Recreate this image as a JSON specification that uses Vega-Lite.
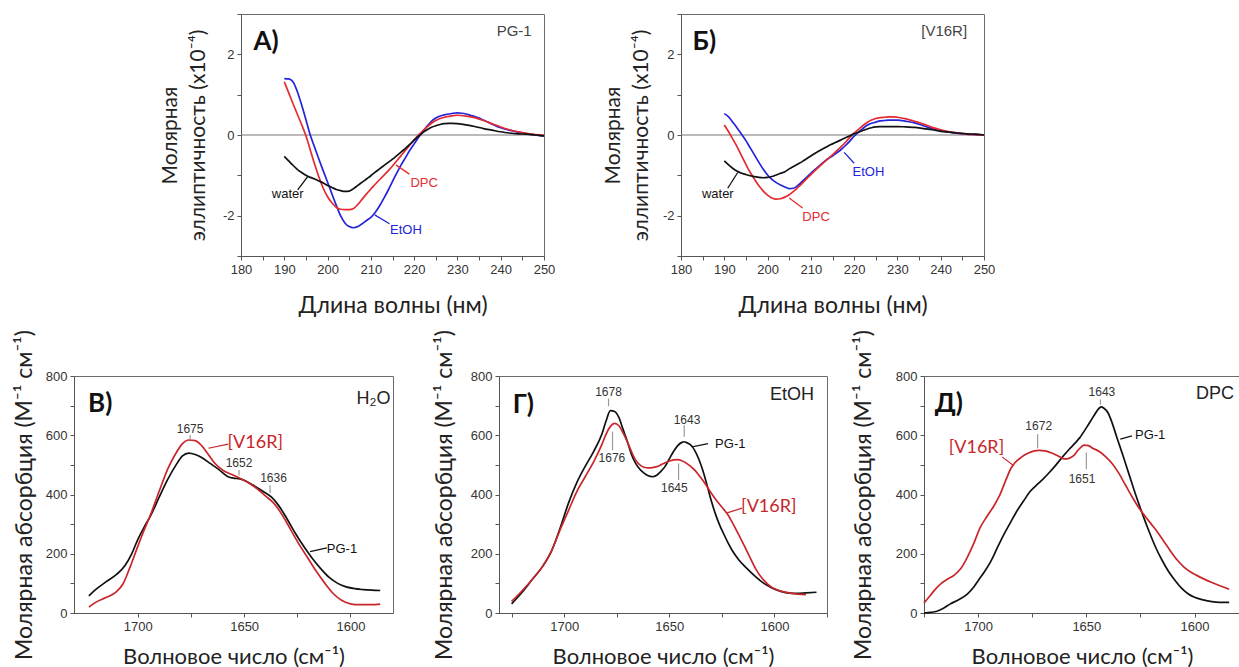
{
"$schema": "https://vega.github.io/schema/vega-lite/v6.json",
"background": "white",
"padding": {"left": 12, "top": 7, "right": 0, "bottom": 0},
"config": {
  "view": {"stroke": null},
  "axis": {"labelFont": "Liberation Sans", "labelFontSize": 13, "labelColor": "#333333", "titleFont": "Lato", "titleFontSize": 22, "titleFontWeight": "normal", "titleColor": "#222222", "tickColor": "#555555", "domainColor": "#555555", "tickSize": 4, "labelPadding": 3, "grid": false, "labelOverlap": false, "labelFlush": false, "titleLineHeight": 28}
},
"datasets": {
"cd": [
{"p":"A","s":"EtOH","x":190,"y":1.40},{"p":"A","s":"EtOH","x":191,"y":1.39},{"p":"A","s":"EtOH","x":192,"y":1.32},{"p":"A","s":"EtOH","x":193,"y":1.08},{"p":"A","s":"EtOH","x":194,"y":0.75},{"p":"A","s":"EtOH","x":195,"y":0.38},{"p":"A","s":"EtOH","x":196,"y":0.0},{"p":"A","s":"EtOH","x":197,"y":-0.30},{"p":"A","s":"EtOH","x":198,"y":-0.60},{"p":"A","s":"EtOH","x":199,"y":-0.89},{"p":"A","s":"EtOH","x":200,"y":-1.17},{"p":"A","s":"EtOH","x":201,"y":-1.46},{"p":"A","s":"EtOH","x":202,"y":-1.74},{"p":"A","s":"EtOH","x":203,"y":-2.00},{"p":"A","s":"EtOH","x":204,"y":-2.18},{"p":"A","s":"EtOH","x":205,"y":-2.27},{"p":"A","s":"EtOH","x":206,"y":-2.30},{"p":"A","s":"EtOH","x":207,"y":-2.27},{"p":"A","s":"EtOH","x":208,"y":-2.20},{"p":"A","s":"EtOH","x":209,"y":-2.12},{"p":"A","s":"EtOH","x":210,"y":-2.04},{"p":"A","s":"EtOH","x":211,"y":-1.92},{"p":"A","s":"EtOH","x":212,"y":-1.76},{"p":"A","s":"EtOH","x":213,"y":-1.57},{"p":"A","s":"EtOH","x":214,"y":-1.37},{"p":"A","s":"EtOH","x":215,"y":-1.15},{"p":"A","s":"EtOH","x":216,"y":-0.94},{"p":"A","s":"EtOH","x":217,"y":-0.74},{"p":"A","s":"EtOH","x":218,"y":-0.56},{"p":"A","s":"EtOH","x":219,"y":-0.38},{"p":"A","s":"EtOH","x":220,"y":-0.22},{"p":"A","s":"EtOH","x":221,"y":-0.06},{"p":"A","s":"EtOH","x":222,"y":0.08},{"p":"A","s":"EtOH","x":223,"y":0.22},{"p":"A","s":"EtOH","x":224,"y":0.34},{"p":"A","s":"EtOH","x":225,"y":0.42},{"p":"A","s":"EtOH","x":226,"y":0.47},{"p":"A","s":"EtOH","x":227,"y":0.50},{"p":"A","s":"EtOH","x":228,"y":0.52},{"p":"A","s":"EtOH","x":229,"y":0.54},{"p":"A","s":"EtOH","x":230,"y":0.55},{"p":"A","s":"EtOH","x":231,"y":0.54},{"p":"A","s":"EtOH","x":232,"y":0.52},{"p":"A","s":"EtOH","x":233,"y":0.49},{"p":"A","s":"EtOH","x":234,"y":0.46},{"p":"A","s":"EtOH","x":235,"y":0.42},{"p":"A","s":"EtOH","x":236,"y":0.37},{"p":"A","s":"EtOH","x":237,"y":0.32},{"p":"A","s":"EtOH","x":238,"y":0.27},{"p":"A","s":"EtOH","x":239,"y":0.22},{"p":"A","s":"EtOH","x":240,"y":0.18},{"p":"A","s":"EtOH","x":242,"y":0.12},{"p":"A","s":"EtOH","x":244,"y":0.07},{"p":"A","s":"EtOH","x":246,"y":0.03},{"p":"A","s":"EtOH","x":248,"y":0.0},{"p":"A","s":"EtOH","x":250,"y":-0.03},
{"p":"A","s":"DPC","x":190,"y":1.32},{"p":"A","s":"DPC","x":191,"y":1.05},{"p":"A","s":"DPC","x":192,"y":0.78},{"p":"A","s":"DPC","x":193,"y":0.52},{"p":"A","s":"DPC","x":194,"y":0.26},{"p":"A","s":"DPC","x":195,"y":-0.02},{"p":"A","s":"DPC","x":196,"y":-0.37},{"p":"A","s":"DPC","x":197,"y":-0.72},{"p":"A","s":"DPC","x":198,"y":-1.04},{"p":"A","s":"DPC","x":199,"y":-1.32},{"p":"A","s":"DPC","x":200,"y":-1.53},{"p":"A","s":"DPC","x":201,"y":-1.68},{"p":"A","s":"DPC","x":202,"y":-1.79},{"p":"A","s":"DPC","x":203,"y":-1.84},{"p":"A","s":"DPC","x":204,"y":-1.85},{"p":"A","s":"DPC","x":205,"y":-1.85},{"p":"A","s":"DPC","x":206,"y":-1.82},{"p":"A","s":"DPC","x":207,"y":-1.72},{"p":"A","s":"DPC","x":208,"y":-1.59},{"p":"A","s":"DPC","x":209,"y":-1.46},{"p":"A","s":"DPC","x":210,"y":-1.34},{"p":"A","s":"DPC","x":211,"y":-1.22},{"p":"A","s":"DPC","x":212,"y":-1.11},{"p":"A","s":"DPC","x":213,"y":-1.00},{"p":"A","s":"DPC","x":214,"y":-0.89},{"p":"A","s":"DPC","x":215,"y":-0.77},{"p":"A","s":"DPC","x":216,"y":-0.64},{"p":"A","s":"DPC","x":217,"y":-0.51},{"p":"A","s":"DPC","x":218,"y":-0.38},{"p":"A","s":"DPC","x":219,"y":-0.25},{"p":"A","s":"DPC","x":220,"y":-0.12},{"p":"A","s":"DPC","x":221,"y":0.0},{"p":"A","s":"DPC","x":222,"y":0.10},{"p":"A","s":"DPC","x":223,"y":0.20},{"p":"A","s":"DPC","x":224,"y":0.29},{"p":"A","s":"DPC","x":225,"y":0.36},{"p":"A","s":"DPC","x":226,"y":0.41},{"p":"A","s":"DPC","x":227,"y":0.44},{"p":"A","s":"DPC","x":228,"y":0.46},{"p":"A","s":"DPC","x":229,"y":0.48},{"p":"A","s":"DPC","x":230,"y":0.49},{"p":"A","s":"DPC","x":232,"y":0.47},{"p":"A","s":"DPC","x":234,"y":0.43},{"p":"A","s":"DPC","x":236,"y":0.36},{"p":"A","s":"DPC","x":238,"y":0.28},{"p":"A","s":"DPC","x":240,"y":0.20},{"p":"A","s":"DPC","x":242,"y":0.13},{"p":"A","s":"DPC","x":244,"y":0.08},{"p":"A","s":"DPC","x":246,"y":0.04},{"p":"A","s":"DPC","x":248,"y":0.01},{"p":"A","s":"DPC","x":250,"y":-0.01},
{"p":"A","s":"water","x":190,"y":-0.53},{"p":"A","s":"water","x":191,"y":-0.64},{"p":"A","s":"water","x":192,"y":-0.75},{"p":"A","s":"water","x":193,"y":-0.85},{"p":"A","s":"water","x":194,"y":-0.93},{"p":"A","s":"water","x":195,"y":-1.00},{"p":"A","s":"water","x":196,"y":-1.05},{"p":"A","s":"water","x":197,"y":-1.09},{"p":"A","s":"water","x":198,"y":-1.14},{"p":"A","s":"water","x":199,"y":-1.19},{"p":"A","s":"water","x":200,"y":-1.25},{"p":"A","s":"water","x":201,"y":-1.30},{"p":"A","s":"water","x":202,"y":-1.35},{"p":"A","s":"water","x":203,"y":-1.38},{"p":"A","s":"water","x":204,"y":-1.40},{"p":"A","s":"water","x":205,"y":-1.39},{"p":"A","s":"water","x":206,"y":-1.33},{"p":"A","s":"water","x":207,"y":-1.25},{"p":"A","s":"water","x":208,"y":-1.17},{"p":"A","s":"water","x":209,"y":-1.09},{"p":"A","s":"water","x":210,"y":-1.01},{"p":"A","s":"water","x":211,"y":-0.92},{"p":"A","s":"water","x":212,"y":-0.84},{"p":"A","s":"water","x":213,"y":-0.76},{"p":"A","s":"water","x":214,"y":-0.68},{"p":"A","s":"water","x":215,"y":-0.60},{"p":"A","s":"water","x":216,"y":-0.51},{"p":"A","s":"water","x":217,"y":-0.42},{"p":"A","s":"water","x":218,"y":-0.33},{"p":"A","s":"water","x":219,"y":-0.23},{"p":"A","s":"water","x":220,"y":-0.13},{"p":"A","s":"water","x":221,"y":-0.03},{"p":"A","s":"water","x":222,"y":0.06},{"p":"A","s":"water","x":223,"y":0.13},{"p":"A","s":"water","x":224,"y":0.19},{"p":"A","s":"water","x":225,"y":0.23},{"p":"A","s":"water","x":226,"y":0.26},{"p":"A","s":"water","x":227,"y":0.28},{"p":"A","s":"water","x":228,"y":0.29},{"p":"A","s":"water","x":229,"y":0.29},{"p":"A","s":"water","x":230,"y":0.28},{"p":"A","s":"water","x":232,"y":0.25},{"p":"A","s":"water","x":234,"y":0.21},{"p":"A","s":"water","x":236,"y":0.16},{"p":"A","s":"water","x":238,"y":0.12},{"p":"A","s":"water","x":240,"y":0.08},{"p":"A","s":"water","x":242,"y":0.05},{"p":"A","s":"water","x":244,"y":0.03},{"p":"A","s":"water","x":246,"y":0.02},{"p":"A","s":"water","x":248,"y":0.0},{"p":"A","s":"water","x":250,"y":-0.02},
{"p":"B","s":"EtOH","x":190,"y":0.53},{"p":"B","s":"EtOH","x":191,"y":0.45},{"p":"B","s":"EtOH","x":192,"y":0.31},{"p":"B","s":"EtOH","x":193,"y":0.17},{"p":"B","s":"EtOH","x":194,"y":0.02},{"p":"B","s":"EtOH","x":195,"y":-0.14},{"p":"B","s":"EtOH","x":196,"y":-0.32},{"p":"B","s":"EtOH","x":197,"y":-0.50},{"p":"B","s":"EtOH","x":198,"y":-0.68},{"p":"B","s":"EtOH","x":199,"y":-0.85},{"p":"B","s":"EtOH","x":200,"y":-0.99},{"p":"B","s":"EtOH","x":201,"y":-1.10},{"p":"B","s":"EtOH","x":202,"y":-1.18},{"p":"B","s":"EtOH","x":203,"y":-1.24},{"p":"B","s":"EtOH","x":204,"y":-1.29},{"p":"B","s":"EtOH","x":205,"y":-1.33},{"p":"B","s":"EtOH","x":206,"y":-1.32},{"p":"B","s":"EtOH","x":207,"y":-1.25},{"p":"B","s":"EtOH","x":208,"y":-1.15},{"p":"B","s":"EtOH","x":209,"y":-1.05},{"p":"B","s":"EtOH","x":210,"y":-0.95},{"p":"B","s":"EtOH","x":211,"y":-0.85},{"p":"B","s":"EtOH","x":212,"y":-0.76},{"p":"B","s":"EtOH","x":213,"y":-0.67},{"p":"B","s":"EtOH","x":214,"y":-0.59},{"p":"B","s":"EtOH","x":215,"y":-0.52},{"p":"B","s":"EtOH","x":216,"y":-0.44},{"p":"B","s":"EtOH","x":217,"y":-0.36},{"p":"B","s":"EtOH","x":218,"y":-0.26},{"p":"B","s":"EtOH","x":219,"y":-0.15},{"p":"B","s":"EtOH","x":220,"y":-0.03},{"p":"B","s":"EtOH","x":221,"y":0.07},{"p":"B","s":"EtOH","x":222,"y":0.16},{"p":"B","s":"EtOH","x":223,"y":0.24},{"p":"B","s":"EtOH","x":224,"y":0.29},{"p":"B","s":"EtOH","x":225,"y":0.32},{"p":"B","s":"EtOH","x":226,"y":0.35},{"p":"B","s":"EtOH","x":227,"y":0.36},{"p":"B","s":"EtOH","x":228,"y":0.37},{"p":"B","s":"EtOH","x":229,"y":0.37},{"p":"B","s":"EtOH","x":230,"y":0.37},{"p":"B","s":"EtOH","x":232,"y":0.34},{"p":"B","s":"EtOH","x":234,"y":0.30},{"p":"B","s":"EtOH","x":236,"y":0.23},{"p":"B","s":"EtOH","x":238,"y":0.16},{"p":"B","s":"EtOH","x":240,"y":0.11},{"p":"B","s":"EtOH","x":242,"y":0.07},{"p":"B","s":"EtOH","x":244,"y":0.04},{"p":"B","s":"EtOH","x":246,"y":0.02},{"p":"B","s":"EtOH","x":248,"y":0.01},{"p":"B","s":"EtOH","x":250,"y":0.0},
{"p":"B","s":"DPC","x":190,"y":0.25},{"p":"B","s":"DPC","x":191,"y":0.08},{"p":"B","s":"DPC","x":192,"y":-0.11},{"p":"B","s":"DPC","x":193,"y":-0.30},{"p":"B","s":"DPC","x":194,"y":-0.52},{"p":"B","s":"DPC","x":195,"y":-0.73},{"p":"B","s":"DPC","x":196,"y":-0.93},{"p":"B","s":"DPC","x":197,"y":-1.10},{"p":"B","s":"DPC","x":198,"y":-1.26},{"p":"B","s":"DPC","x":199,"y":-1.39},{"p":"B","s":"DPC","x":200,"y":-1.49},{"p":"B","s":"DPC","x":201,"y":-1.56},{"p":"B","s":"DPC","x":202,"y":-1.59},{"p":"B","s":"DPC","x":203,"y":-1.58},{"p":"B","s":"DPC","x":204,"y":-1.54},{"p":"B","s":"DPC","x":205,"y":-1.48},{"p":"B","s":"DPC","x":206,"y":-1.40},{"p":"B","s":"DPC","x":207,"y":-1.30},{"p":"B","s":"DPC","x":208,"y":-1.20},{"p":"B","s":"DPC","x":209,"y":-1.09},{"p":"B","s":"DPC","x":210,"y":-0.98},{"p":"B","s":"DPC","x":211,"y":-0.88},{"p":"B","s":"DPC","x":212,"y":-0.78},{"p":"B","s":"DPC","x":213,"y":-0.68},{"p":"B","s":"DPC","x":214,"y":-0.58},{"p":"B","s":"DPC","x":215,"y":-0.49},{"p":"B","s":"DPC","x":216,"y":-0.39},{"p":"B","s":"DPC","x":217,"y":-0.29},{"p":"B","s":"DPC","x":218,"y":-0.18},{"p":"B","s":"DPC","x":219,"y":-0.06},{"p":"B","s":"DPC","x":220,"y":0.05},{"p":"B","s":"DPC","x":221,"y":0.14},{"p":"B","s":"DPC","x":222,"y":0.23},{"p":"B","s":"DPC","x":223,"y":0.31},{"p":"B","s":"DPC","x":224,"y":0.37},{"p":"B","s":"DPC","x":225,"y":0.41},{"p":"B","s":"DPC","x":226,"y":0.43},{"p":"B","s":"DPC","x":227,"y":0.44},{"p":"B","s":"DPC","x":228,"y":0.45},{"p":"B","s":"DPC","x":229,"y":0.45},{"p":"B","s":"DPC","x":230,"y":0.44},{"p":"B","s":"DPC","x":232,"y":0.40},{"p":"B","s":"DPC","x":234,"y":0.34},{"p":"B","s":"DPC","x":236,"y":0.27},{"p":"B","s":"DPC","x":238,"y":0.19},{"p":"B","s":"DPC","x":240,"y":0.13},{"p":"B","s":"DPC","x":242,"y":0.08},{"p":"B","s":"DPC","x":244,"y":0.05},{"p":"B","s":"DPC","x":246,"y":0.02},{"p":"B","s":"DPC","x":248,"y":0.01},{"p":"B","s":"DPC","x":250,"y":0.0},
{"p":"B","s":"water","x":190,"y":-0.64},{"p":"B","s":"water","x":191,"y":-0.74},{"p":"B","s":"water","x":192,"y":-0.83},{"p":"B","s":"water","x":193,"y":-0.90},{"p":"B","s":"water","x":194,"y":-0.95},{"p":"B","s":"water","x":195,"y":-0.98},{"p":"B","s":"water","x":196,"y":-1.01},{"p":"B","s":"water","x":197,"y":-1.03},{"p":"B","s":"water","x":198,"y":-1.05},{"p":"B","s":"water","x":199,"y":-1.06},{"p":"B","s":"water","x":200,"y":-1.05},{"p":"B","s":"water","x":201,"y":-1.03},{"p":"B","s":"water","x":202,"y":-0.99},{"p":"B","s":"water","x":203,"y":-0.95},{"p":"B","s":"water","x":204,"y":-0.91},{"p":"B","s":"water","x":205,"y":-0.84},{"p":"B","s":"water","x":206,"y":-0.78},{"p":"B","s":"water","x":207,"y":-0.72},{"p":"B","s":"water","x":208,"y":-0.66},{"p":"B","s":"water","x":209,"y":-0.59},{"p":"B","s":"water","x":210,"y":-0.52},{"p":"B","s":"water","x":211,"y":-0.45},{"p":"B","s":"water","x":212,"y":-0.39},{"p":"B","s":"water","x":213,"y":-0.33},{"p":"B","s":"water","x":214,"y":-0.27},{"p":"B","s":"water","x":215,"y":-0.22},{"p":"B","s":"water","x":216,"y":-0.17},{"p":"B","s":"water","x":217,"y":-0.12},{"p":"B","s":"water","x":218,"y":-0.07},{"p":"B","s":"water","x":219,"y":-0.02},{"p":"B","s":"water","x":220,"y":0.03},{"p":"B","s":"water","x":221,"y":0.07},{"p":"B","s":"water","x":222,"y":0.11},{"p":"B","s":"water","x":223,"y":0.15},{"p":"B","s":"water","x":224,"y":0.18},{"p":"B","s":"water","x":225,"y":0.20},{"p":"B","s":"water","x":226,"y":0.21},{"p":"B","s":"water","x":227,"y":0.21},{"p":"B","s":"water","x":228,"y":0.21},{"p":"B","s":"water","x":229,"y":0.21},{"p":"B","s":"water","x":230,"y":0.21},{"p":"B","s":"water","x":232,"y":0.20},{"p":"B","s":"water","x":234,"y":0.19},{"p":"B","s":"water","x":236,"y":0.16},{"p":"B","s":"water","x":238,"y":0.13},{"p":"B","s":"water","x":240,"y":0.09},{"p":"B","s":"water","x":242,"y":0.07},{"p":"B","s":"water","x":244,"y":0.05},{"p":"B","s":"water","x":246,"y":0.03},{"p":"B","s":"water","x":248,"y":0.02},{"p":"B","s":"water","x":250,"y":0.0}
],
"ir": [
{"p":"H2O","s":"PG-1","x":1723,"y":58},{"p":"H2O","s":"PG-1","x":1720,"y":78},{"p":"H2O","s":"PG-1","x":1715,"y":105},{"p":"H2O","s":"PG-1","x":1710,"y":130},{"p":"H2O","s":"PG-1","x":1706,"y":160},{"p":"H2O","s":"PG-1","x":1703,"y":198},{"p":"H2O","s":"PG-1","x":1700,"y":248},{"p":"H2O","s":"PG-1","x":1697,"y":290},{"p":"H2O","s":"PG-1","x":1694,"y":328},{"p":"H2O","s":"PG-1","x":1690,"y":390},{"p":"H2O","s":"PG-1","x":1686,"y":450},{"p":"H2O","s":"PG-1","x":1682,"y":500},{"p":"H2O","s":"PG-1","x":1679,"y":530},{"p":"H2O","s":"PG-1","x":1676,"y":540},{"p":"H2O","s":"PG-1","x":1673,"y":535},{"p":"H2O","s":"PG-1","x":1670,"y":525},{"p":"H2O","s":"PG-1","x":1666,"y":505},{"p":"H2O","s":"PG-1","x":1662,"y":485},{"p":"H2O","s":"PG-1","x":1658,"y":462},{"p":"H2O","s":"PG-1","x":1655,"y":455},{"p":"H2O","s":"PG-1","x":1652,"y":453},{"p":"H2O","s":"PG-1","x":1649,"y":445},{"p":"H2O","s":"PG-1","x":1645,"y":428},{"p":"H2O","s":"PG-1","x":1641,"y":410},{"p":"H2O","s":"PG-1","x":1637,"y":390},{"p":"H2O","s":"PG-1","x":1634,"y":365},{"p":"H2O","s":"PG-1","x":1630,"y":320},{"p":"H2O","s":"PG-1","x":1626,"y":270},{"p":"H2O","s":"PG-1","x":1622,"y":225},{"p":"H2O","s":"PG-1","x":1618,"y":185},{"p":"H2O","s":"PG-1","x":1614,"y":150},{"p":"H2O","s":"PG-1","x":1610,"y":120},{"p":"H2O","s":"PG-1","x":1606,"y":100},{"p":"H2O","s":"PG-1","x":1602,"y":88},{"p":"H2O","s":"PG-1","x":1598,"y":82},{"p":"H2O","s":"PG-1","x":1594,"y":79},{"p":"H2O","s":"PG-1","x":1590,"y":77},{"p":"H2O","s":"PG-1","x":1586,"y":76},
{"p":"H2O","s":"V16R","x":1723,"y":20},{"p":"H2O","s":"V16R","x":1720,"y":35},{"p":"H2O","s":"V16R","x":1715,"y":52},{"p":"H2O","s":"V16R","x":1710,"y":72},{"p":"H2O","s":"V16R","x":1707,"y":98},{"p":"H2O","s":"V16R","x":1704,"y":148},{"p":"H2O","s":"V16R","x":1700,"y":225},{"p":"H2O","s":"V16R","x":1697,"y":280},{"p":"H2O","s":"V16R","x":1694,"y":332},{"p":"H2O","s":"V16R","x":1690,"y":410},{"p":"H2O","s":"V16R","x":1686,"y":485},{"p":"H2O","s":"V16R","x":1682,"y":540},{"p":"H2O","s":"V16R","x":1679,"y":572},{"p":"H2O","s":"V16R","x":1676,"y":584},{"p":"H2O","s":"V16R","x":1673,"y":582},{"p":"H2O","s":"V16R","x":1670,"y":565},{"p":"H2O","s":"V16R","x":1667,"y":537},{"p":"H2O","s":"V16R","x":1664,"y":507},{"p":"H2O","s":"V16R","x":1660,"y":482},{"p":"H2O","s":"V16R","x":1656,"y":468},{"p":"H2O","s":"V16R","x":1652,"y":455},{"p":"H2O","s":"V16R","x":1648,"y":440},{"p":"H2O","s":"V16R","x":1644,"y":420},{"p":"H2O","s":"V16R","x":1640,"y":395},{"p":"H2O","s":"V16R","x":1636,"y":370},{"p":"H2O","s":"V16R","x":1632,"y":330},{"p":"H2O","s":"V16R","x":1628,"y":280},{"p":"H2O","s":"V16R","x":1624,"y":230},{"p":"H2O","s":"V16R","x":1620,"y":185},{"p":"H2O","s":"V16R","x":1616,"y":140},{"p":"H2O","s":"V16R","x":1612,"y":100},{"p":"H2O","s":"V16R","x":1608,"y":65},{"p":"H2O","s":"V16R","x":1604,"y":42},{"p":"H2O","s":"V16R","x":1600,"y":31},{"p":"H2O","s":"V16R","x":1596,"y":28},{"p":"H2O","s":"V16R","x":1590,"y":28},{"p":"H2O","s":"V16R","x":1586,"y":30},
{"p":"EtOH","s":"PG-1","x":1725,"y":31},{"p":"EtOH","s":"PG-1","x":1720,"y":70},{"p":"EtOH","s":"PG-1","x":1715,"y":115},{"p":"EtOH","s":"PG-1","x":1710,"y":160},{"p":"EtOH","s":"PG-1","x":1706,"y":210},{"p":"EtOH","s":"PG-1","x":1702,"y":285},{"p":"EtOH","s":"PG-1","x":1698,"y":370},{"p":"EtOH","s":"PG-1","x":1694,"y":440},{"p":"EtOH","s":"PG-1","x":1690,"y":495},{"p":"EtOH","s":"PG-1","x":1686,"y":545},{"p":"EtOH","s":"PG-1","x":1682,"y":605},{"p":"EtOH","s":"PG-1","x":1680,"y":650},{"p":"EtOH","s":"PG-1","x":1678,"y":683},{"p":"EtOH","s":"PG-1","x":1676,"y":680},{"p":"EtOH","s":"PG-1","x":1674,"y":660},{"p":"EtOH","s":"PG-1","x":1672,"y":620},{"p":"EtOH","s":"PG-1","x":1670,"y":580},{"p":"EtOH","s":"PG-1","x":1668,"y":535},{"p":"EtOH","s":"PG-1","x":1666,"y":505},{"p":"EtOH","s":"PG-1","x":1664,"y":485},{"p":"EtOH","s":"PG-1","x":1662,"y":472},{"p":"EtOH","s":"PG-1","x":1660,"y":463},{"p":"EtOH","s":"PG-1","x":1658,"y":460},{"p":"EtOH","s":"PG-1","x":1656,"y":465},{"p":"EtOH","s":"PG-1","x":1654,"y":478},{"p":"EtOH","s":"PG-1","x":1652,"y":495},{"p":"EtOH","s":"PG-1","x":1650,"y":520},{"p":"EtOH","s":"PG-1","x":1648,"y":545},{"p":"EtOH","s":"PG-1","x":1646,"y":565},{"p":"EtOH","s":"PG-1","x":1644,"y":576},{"p":"EtOH","s":"PG-1","x":1643,"y":578},{"p":"EtOH","s":"PG-1","x":1642,"y":576},{"p":"EtOH","s":"PG-1","x":1640,"y":568},{"p":"EtOH","s":"PG-1","x":1638,"y":550},{"p":"EtOH","s":"PG-1","x":1636,"y":520},{"p":"EtOH","s":"PG-1","x":1634,"y":480},{"p":"EtOH","s":"PG-1","x":1632,"y":430},{"p":"EtOH","s":"PG-1","x":1630,"y":378},{"p":"EtOH","s":"PG-1","x":1628,"y":333},{"p":"EtOH","s":"PG-1","x":1626,"y":296},{"p":"EtOH","s":"PG-1","x":1624,"y":265},{"p":"EtOH","s":"PG-1","x":1622,"y":236},{"p":"EtOH","s":"PG-1","x":1620,"y":210},{"p":"EtOH","s":"PG-1","x":1617,"y":180},{"p":"EtOH","s":"PG-1","x":1613,"y":150},{"p":"EtOH","s":"PG-1","x":1609,"y":123},{"p":"EtOH","s":"PG-1","x":1605,"y":100},{"p":"EtOH","s":"PG-1","x":1601,"y":84},{"p":"EtOH","s":"PG-1","x":1597,"y":73},{"p":"EtOH","s":"PG-1","x":1593,"y":67},{"p":"EtOH","s":"PG-1","x":1589,"y":66},{"p":"EtOH","s":"PG-1","x":1585,"y":68},{"p":"EtOH","s":"PG-1","x":1580,"y":70},
{"p":"EtOH","s":"V16R","x":1725,"y":39},{"p":"EtOH","s":"V16R","x":1720,"y":75},{"p":"EtOH","s":"V16R","x":1715,"y":115},{"p":"EtOH","s":"V16R","x":1710,"y":160},{"p":"EtOH","s":"V16R","x":1706,"y":210},{"p":"EtOH","s":"V16R","x":1702,"y":280},{"p":"EtOH","s":"V16R","x":1698,"y":345},{"p":"EtOH","s":"V16R","x":1694,"y":410},{"p":"EtOH","s":"V16R","x":1690,"y":460},{"p":"EtOH","s":"V16R","x":1686,"y":510},{"p":"EtOH","s":"V16R","x":1682,"y":570},{"p":"EtOH","s":"V16R","x":1680,"y":605},{"p":"EtOH","s":"V16R","x":1678,"y":630},{"p":"EtOH","s":"V16R","x":1676,"y":640},{"p":"EtOH","s":"V16R","x":1674,"y":632},{"p":"EtOH","s":"V16R","x":1672,"y":608},{"p":"EtOH","s":"V16R","x":1670,"y":578},{"p":"EtOH","s":"V16R","x":1668,"y":545},{"p":"EtOH","s":"V16R","x":1666,"y":516},{"p":"EtOH","s":"V16R","x":1664,"y":500},{"p":"EtOH","s":"V16R","x":1662,"y":492},{"p":"EtOH","s":"V16R","x":1660,"y":490},{"p":"EtOH","s":"V16R","x":1658,"y":491},{"p":"EtOH","s":"V16R","x":1656,"y":494},{"p":"EtOH","s":"V16R","x":1654,"y":500},{"p":"EtOH","s":"V16R","x":1652,"y":507},{"p":"EtOH","s":"V16R","x":1650,"y":513},{"p":"EtOH","s":"V16R","x":1648,"y":517},{"p":"EtOH","s":"V16R","x":1646,"y":518},{"p":"EtOH","s":"V16R","x":1644,"y":514},{"p":"EtOH","s":"V16R","x":1642,"y":506},{"p":"EtOH","s":"V16R","x":1640,"y":496},{"p":"EtOH","s":"V16R","x":1638,"y":483},{"p":"EtOH","s":"V16R","x":1636,"y":466},{"p":"EtOH","s":"V16R","x":1634,"y":447},{"p":"EtOH","s":"V16R","x":1632,"y":426},{"p":"EtOH","s":"V16R","x":1630,"y":404},{"p":"EtOH","s":"V16R","x":1628,"y":384},{"p":"EtOH","s":"V16R","x":1626,"y":366},{"p":"EtOH","s":"V16R","x":1624,"y":349},{"p":"EtOH","s":"V16R","x":1622,"y":330},{"p":"EtOH","s":"V16R","x":1620,"y":305},{"p":"EtOH","s":"V16R","x":1618,"y":278},{"p":"EtOH","s":"V16R","x":1616,"y":250},{"p":"EtOH","s":"V16R","x":1614,"y":222},{"p":"EtOH","s":"V16R","x":1612,"y":193},{"p":"EtOH","s":"V16R","x":1609,"y":150},{"p":"EtOH","s":"V16R","x":1605,"y":110},{"p":"EtOH","s":"V16R","x":1601,"y":85},{"p":"EtOH","s":"V16R","x":1597,"y":74},{"p":"EtOH","s":"V16R","x":1593,"y":68},{"p":"EtOH","s":"V16R","x":1589,"y":64},{"p":"EtOH","s":"V16R","x":1585,"y":62},
{"p":"DPC","s":"PG-1","x":1725,"y":0},{"p":"DPC","s":"PG-1","x":1722,"y":2},{"p":"DPC","s":"PG-1","x":1719,"y":6},{"p":"DPC","s":"PG-1","x":1716,"y":16},{"p":"DPC","s":"PG-1","x":1713,"y":30},{"p":"DPC","s":"PG-1","x":1709,"y":45},{"p":"DPC","s":"PG-1","x":1705,"y":64},{"p":"DPC","s":"PG-1","x":1702,"y":88},{"p":"DPC","s":"PG-1","x":1700,"y":109},{"p":"DPC","s":"PG-1","x":1697,"y":140},{"p":"DPC","s":"PG-1","x":1694,"y":176},{"p":"DPC","s":"PG-1","x":1691,"y":222},{"p":"DPC","s":"PG-1","x":1688,"y":266},{"p":"DPC","s":"PG-1","x":1685,"y":306},{"p":"DPC","s":"PG-1","x":1682,"y":345},{"p":"DPC","s":"PG-1","x":1679,"y":378},{"p":"DPC","s":"PG-1","x":1676,"y":410},{"p":"DPC","s":"PG-1","x":1673,"y":432},{"p":"DPC","s":"PG-1","x":1670,"y":452},{"p":"DPC","s":"PG-1","x":1667,"y":475},{"p":"DPC","s":"PG-1","x":1664,"y":500},{"p":"DPC","s":"PG-1","x":1661,"y":527},{"p":"DPC","s":"PG-1","x":1658,"y":552},{"p":"DPC","s":"PG-1","x":1655,"y":575},{"p":"DPC","s":"PG-1","x":1653,"y":592},{"p":"DPC","s":"PG-1","x":1650,"y":625},{"p":"DPC","s":"PG-1","x":1648,"y":648},{"p":"DPC","s":"PG-1","x":1646,"y":672},{"p":"DPC","s":"PG-1","x":1644,"y":692},{"p":"DPC","s":"PG-1","x":1643,"y":696},{"p":"DPC","s":"PG-1","x":1642,"y":692},{"p":"DPC","s":"PG-1","x":1640,"y":676},{"p":"DPC","s":"PG-1","x":1638,"y":640},{"p":"DPC","s":"PG-1","x":1636,"y":595},{"p":"DPC","s":"PG-1","x":1633,"y":530},{"p":"DPC","s":"PG-1","x":1630,"y":462},{"p":"DPC","s":"PG-1","x":1627,"y":395},{"p":"DPC","s":"PG-1","x":1624,"y":333},{"p":"DPC","s":"PG-1","x":1621,"y":275},{"p":"DPC","s":"PG-1","x":1618,"y":222},{"p":"DPC","s":"PG-1","x":1615,"y":178},{"p":"DPC","s":"PG-1","x":1612,"y":140},{"p":"DPC","s":"PG-1","x":1609,"y":110},{"p":"DPC","s":"PG-1","x":1606,"y":84},{"p":"DPC","s":"PG-1","x":1603,"y":65},{"p":"DPC","s":"PG-1","x":1600,"y":53},{"p":"DPC","s":"PG-1","x":1597,"y":46},{"p":"DPC","s":"PG-1","x":1594,"y":41},{"p":"DPC","s":"PG-1","x":1590,"y":37},{"p":"DPC","s":"PG-1","x":1587,"y":36},{"p":"DPC","s":"PG-1","x":1584,"y":36},
{"p":"DPC","s":"V16R","x":1725,"y":34},{"p":"DPC","s":"V16R","x":1722,"y":60},{"p":"DPC","s":"V16R","x":1720,"y":78},{"p":"DPC","s":"V16R","x":1717,"y":100},{"p":"DPC","s":"V16R","x":1714,"y":115},{"p":"DPC","s":"V16R","x":1711,"y":128},{"p":"DPC","s":"V16R","x":1708,"y":150},{"p":"DPC","s":"V16R","x":1705,"y":188},{"p":"DPC","s":"V16R","x":1702,"y":235},{"p":"DPC","s":"V16R","x":1699,"y":289},{"p":"DPC","s":"V16R","x":1696,"y":325},{"p":"DPC","s":"V16R","x":1693,"y":358},{"p":"DPC","s":"V16R","x":1690,"y":398},{"p":"DPC","s":"V16R","x":1687,"y":452},{"p":"DPC","s":"V16R","x":1685,"y":486},{"p":"DPC","s":"V16R","x":1683,"y":507},{"p":"DPC","s":"V16R","x":1680,"y":526},{"p":"DPC","s":"V16R","x":1677,"y":539},{"p":"DPC","s":"V16R","x":1674,"y":547},{"p":"DPC","s":"V16R","x":1672,"y":549},{"p":"DPC","s":"V16R","x":1669,"y":547},{"p":"DPC","s":"V16R","x":1666,"y":540},{"p":"DPC","s":"V16R","x":1663,"y":530},{"p":"DPC","s":"V16R","x":1660,"y":520},{"p":"DPC","s":"V16R","x":1658,"y":522},{"p":"DPC","s":"V16R","x":1656,"y":530},{"p":"DPC","s":"V16R","x":1654,"y":548},{"p":"DPC","s":"V16R","x":1652,"y":563},{"p":"DPC","s":"V16R","x":1651,"y":567},{"p":"DPC","s":"V16R","x":1649,"y":565},{"p":"DPC","s":"V16R","x":1647,"y":556},{"p":"DPC","s":"V16R","x":1644,"y":545},{"p":"DPC","s":"V16R","x":1641,"y":527},{"p":"DPC","s":"V16R","x":1638,"y":504},{"p":"DPC","s":"V16R","x":1635,"y":472},{"p":"DPC","s":"V16R","x":1632,"y":433},{"p":"DPC","s":"V16R","x":1629,"y":394},{"p":"DPC","s":"V16R","x":1626,"y":358},{"p":"DPC","s":"V16R","x":1623,"y":328},{"p":"DPC","s":"V16R","x":1620,"y":300},{"p":"DPC","s":"V16R","x":1617,"y":272},{"p":"DPC","s":"V16R","x":1614,"y":240},{"p":"DPC","s":"V16R","x":1611,"y":208},{"p":"DPC","s":"V16R","x":1608,"y":179},{"p":"DPC","s":"V16R","x":1605,"y":156},{"p":"DPC","s":"V16R","x":1602,"y":139},{"p":"DPC","s":"V16R","x":1599,"y":127},{"p":"DPC","s":"V16R","x":1596,"y":116},{"p":"DPC","s":"V16R","x":1592,"y":103},{"p":"DPC","s":"V16R","x":1588,"y":91},{"p":"DPC","s":"V16R","x":1584,"y":80}
],
"notes": [
{"p":"A","k":"letter","s":"","x":185.8,"y":2.3,"t":"А)"},
{"p":"A","k":"title","s":"","x":243.1,"y":2.59,"t":"PG-1"},
{"p":"A","k":"label","s":"water","x":190.8,"y":-1.46,"t":"water"},
{"p":"A","k":"label","s":"DPC","x":222.3,"y":-1.18,"t":"DPC"},
{"p":"A","k":"label","s":"EtOH","x":218.1,"y":-2.36,"t":"EtOH"},
{"p":"B","k":"letter","s":"","x":185.4,"y":2.3,"t":"Б)"},
{"p":"B","k":"title","s":"","x":240.8,"y":2.59,"t":"[V16R]"},
{"p":"B","k":"label","s":"water","x":188.5,"y":-1.46,"t":"water"},
{"p":"B","k":"label","s":"DPC","x":211.2,"y":-2.04,"t":"DPC"},
{"p":"B","k":"label","s":"EtOH","x":223.3,"y":-0.92,"t":"EtOH"},
{"p":"H2O","k":"letter","s":"","x":1717.7,"y":707,"t":"В)"},
{"p":"H2O","k":"title","s":"","x":1589.2,"y":724,"t":"H₂O"},
{"p":"H2O","k":"label","s":"PG-1","x":1604,"y":215,"t":"PG-1"},
{"p":"H2O","k":"v16r","s":"V16R","x":1644.8,"y":573,"t":"[V16R]"},
{"p":"H2O","k":"peak","s":"","x":1675.4,"y":620,"t":"1675"},
{"p":"H2O","k":"peak","s":"","x":1652.4,"y":506,"t":"1652"},
{"p":"H2O","k":"peak","s":"","x":1636.2,"y":455,"t":"1636"},
{"p":"EtOH","k":"letter","s":"","x":1719.4,"y":701,"t":"Г)"},
{"p":"EtOH","k":"title","s":"","x":1591.6,"y":735,"t":"EtOH"},
{"p":"EtOH","k":"label","s":"PG-1","x":1621,"y":572,"t":"PG-1"},
{"p":"EtOH","k":"v16r","s":"V16R","x":1602.7,"y":359,"t":"[V16R]"},
{"p":"EtOH","k":"peak","s":"","x":1678.9,"y":746,"t":"1678"},
{"p":"EtOH","k":"peak","s":"","x":1677.3,"y":522,"t":"1676"},
{"p":"EtOH","k":"peak","s":"","x":1641.6,"y":653,"t":"1643"},
{"p":"EtOH","k":"peak","s":"","x":1647.6,"y":421,"t":"1645"},
{"p":"DPC","k":"letter","s":"","x":1713.5,"y":704,"t":"Д)"},
{"p":"DPC","k":"title","s":"","x":1590.5,"y":738,"t":"DPC"},
{"p":"DPC","k":"label","s":"PG-1","x":1620.5,"y":601,"t":"PG-1"},
{"p":"DPC","k":"v16r","s":"V16R","x":1700.8,"y":558,"t":"[V16R]"},
{"p":"DPC","k":"peak","s":"","x":1642.8,"y":747,"t":"1643"},
{"p":"DPC","k":"peak","s":"","x":1672,"y":631,"t":"1672"},
{"p":"DPC","k":"peak","s":"","x":1652,"y":452,"t":"1651"}
],
"segs": [
{"p":"A","s":"zero","x":180,"y":0,"x2":250,"y2":0},
{"p":"B","s":"zero","x":180,"y":0,"x2":250,"y2":0},
{"p":"A","s":"water","x":193.1,"y":-1.36,"x2":195.4,"y2":-1.03},
{"p":"A","s":"DPC","x":215.8,"y":-0.74,"x2":218.9,"y2":-0.97},
{"p":"A","s":"EtOH","x":210.9,"y":-1.98,"x2":214.3,"y2":-2.2},
{"p":"B","s":"water","x":190.8,"y":-1.32,"x2":193.1,"y2":-0.93},
{"p":"B","s":"DPC","x":205.0,"y":-1.56,"x2":208.1,"y2":-1.81},
{"p":"B","s":"EtOH","x":217.7,"y":-0.43,"x2":220.0,"y2":-0.70},
{"p":"H2O","s":"PG-1","x":1619,"y":207,"x2":1611.1,"y2":220},
{"p":"H2O","s":"V16R","x":1666.8,"y":556,"x2":1657.4,"y2":570},
{"p":"H2O","s":"tick","x":1675.4,"y":601,"x2":1675.4,"y2":587},
{"p":"H2O","s":"tick","x":1652.4,"y":483,"x2":1652.4,"y2":464},
{"p":"H2O","s":"tick","x":1637.8,"y":431,"x2":1637.8,"y2":405},
{"p":"EtOH","s":"tick","x":1678.9,"y":724,"x2":1678.9,"y2":698},
{"p":"EtOH","s":"tick","x":1677,"y":612,"x2":1677,"y2":550},
{"p":"EtOH","s":"tick","x":1642.9,"y":634,"x2":1642.9,"y2":595},
{"p":"EtOH","s":"tick","x":1645.6,"y":505,"x2":1645.6,"y2":449},
{"p":"EtOH","s":"PG-1","x":1639.2,"y":561,"x2":1631.6,"y2":572},
{"p":"EtOH","s":"V16R","x":1622.5,"y":338,"x2":1615.4,"y2":354},
{"p":"DPC","s":"tick","x":1643.5,"y":721,"x2":1643.5,"y2":704},
{"p":"DPC","s":"tick","x":1672.5,"y":603,"x2":1672.5,"y2":556},
{"p":"DPC","s":"tick","x":1650,"y":542,"x2":1650,"y2":485},
{"p":"DPC","s":"PG-1","x":1634.3,"y":587,"x2":1628.9,"y2":598},
{"p":"DPC","s":"V16R","x":1688.9,"y":527,"x2":1683.5,"y2":497}
]
},
"bounds": "full",
"spacing": 11,
"vconcat": [
{"hconcat": [
{"width": 167, "height": 242, "data": {"values": []}, "mark": "point", "encoding": {}},
{"width": 303, "height": 242, "view": {"stroke": "#6b6b6b"},
 "encoding": {
  "x": {"field": "x", "type": "quantitative", "scale": {"domain": [180, 250], "nice": false, "zero": false}, "axis": {"values": [180,185,190,195,200,205,210,215,220,225,230,235,240,245,250], "labelExpr": "datum.value % 10 == 0 ? '' + datum.value : ''", "title": "Длина волны (нм)", "titleFontSize": 23, "titlePadding": 18}},
  "y": {"field": "y", "type": "quantitative", "scale": {"domain": [-3, 3], "nice": false, "zero": false}, "axis": {"values": [-3,-2,-1,0,1,2,3], "labelExpr": "datum.value % 2 == 0 ? '' + datum.value : ''", "title": ["Молярная", "эллиптичность (x10⁻⁴)"], "titleFontSize": 21, "titlePadding": 14}}
 },
 "layer": [
  {"data": {"name": "segs"}, "transform": [{"filter": "datum.p == 'A' && datum.s == 'zero'"}], "mark": {"type": "rule", "color": "#777777", "strokeWidth": 1}, "encoding": {"x2": {"field": "x2"}, "y2": {"field": "y2"}}},
  {"data": {"name": "cd"}, "transform": [{"filter": "datum.p == 'A'"}], "mark": {"type": "line", "strokeWidth": 1.7, "interpolate": "monotone"},
   "encoding": {"color": {"field": "s", "type": "nominal", "scale": {"domain": ["water","DPC","EtOH","PG-1","V16R","tick"], "range": ["#111111","#e42b30","#2424d8","#111111","#c8262b","#9a9a9a"]}, "legend": null}}},
  {"data": {"name": "segs"}, "transform": [{"filter": "datum.p == 'A' && datum.s != 'zero'"}], "mark": {"type": "rule", "strokeWidth": 1.3},
   "encoding": {"x2": {"field": "x2"}, "y2": {"field": "y2"}, "color": {"field": "s", "type": "nominal", "scale": {"domain": ["water","DPC","EtOH","PG-1","V16R","tick"], "range": ["#111111","#e42b30","#2424d8","#111111","#c8262b","#9a9a9a"]}, "legend": null}}},
  {"data": {"name": "notes"}, "transform": [{"filter": "datum.p == 'A' && datum.k == 'label'"}], "mark": {"type": "text", "font": "Liberation Sans", "fontSize": 13},
   "encoding": {"text": {"field": "t"}, "color": {"field": "s", "type": "nominal", "scale": {"domain": ["water","DPC","EtOH","PG-1","V16R","tick"], "range": ["#111111","#e42b30","#2424d8","#111111","#c8262b","#9a9a9a"]}, "legend": null}}},
  {"data": {"name": "notes"}, "transform": [{"filter": "datum.p == 'A' && datum.k == 'letter'"}], "mark": {"type": "text", "font": "Lato", "fontSize": 26, "fontWeight": "bold", "color": "#111111"}, "encoding": {"text": {"field": "t"}}},
  {"data": {"name": "notes"}, "transform": [{"filter": "datum.p == 'A' && datum.k == 'title'"}], "mark": {"type": "text", "font": "Liberation Sans", "fontSize": 15, "color": "#444444"}, "encoding": {"text": {"field": "t"}}}
 ]},
{"width": 137, "height": 242, "data": {"values": []}, "mark": "point", "encoding": {}},
{"width": 303, "height": 242, "view": {"stroke": "#6b6b6b"},
 "encoding": {
  "x": {"field": "x", "type": "quantitative", "scale": {"domain": [180, 250], "nice": false, "zero": false}, "axis": {"values": [180,185,190,195,200,205,210,215,220,225,230,235,240,245,250], "labelExpr": "datum.value % 10 == 0 ? '' + datum.value : ''", "title": "Длина волны (нм)", "titleFontSize": 23, "titlePadding": 18}},
  "y": {"field": "y", "type": "quantitative", "scale": {"domain": [-3, 3], "nice": false, "zero": false}, "axis": {"values": [-3,-2,-1,0,1,2,3], "labelExpr": "datum.value % 2 == 0 ? '' + datum.value : ''", "title": ["Молярная", "эллиптичность (x10⁻⁴)"], "titleFontSize": 21, "titlePadding": 11}}
 },
 "layer": [
  {"data": {"name": "segs"}, "transform": [{"filter": "datum.p == 'B' && datum.s == 'zero'"}], "mark": {"type": "rule", "color": "#777777", "strokeWidth": 1}, "encoding": {"x2": {"field": "x2"}, "y2": {"field": "y2"}}},
  {"data": {"name": "cd"}, "transform": [{"filter": "datum.p == 'B'"}], "mark": {"type": "line", "strokeWidth": 1.7, "interpolate": "monotone"},
   "encoding": {"color": {"field": "s", "type": "nominal", "scale": {"domain": ["water","DPC","EtOH","PG-1","V16R","tick"], "range": ["#111111","#e42b30","#2424d8","#111111","#c8262b","#9a9a9a"]}, "legend": null}}},
  {"data": {"name": "segs"}, "transform": [{"filter": "datum.p == 'B' && datum.s != 'zero'"}], "mark": {"type": "rule", "strokeWidth": 1.3},
   "encoding": {"x2": {"field": "x2"}, "y2": {"field": "y2"}, "color": {"field": "s", "type": "nominal", "scale": {"domain": ["water","DPC","EtOH","PG-1","V16R","tick"], "range": ["#111111","#e42b30","#2424d8","#111111","#c8262b","#9a9a9a"]}, "legend": null}}},
  {"data": {"name": "notes"}, "transform": [{"filter": "datum.p == 'B' && datum.k == 'label'"}], "mark": {"type": "text", "font": "Liberation Sans", "fontSize": 13},
   "encoding": {"text": {"field": "t"}, "color": {"field": "s", "type": "nominal", "scale": {"domain": ["water","DPC","EtOH","PG-1","V16R","tick"], "range": ["#111111","#e42b30","#2424d8","#111111","#c8262b","#9a9a9a"]}, "legend": null}}},
  {"data": {"name": "notes"}, "transform": [{"filter": "datum.p == 'B' && datum.k == 'letter'"}], "mark": {"type": "text", "font": "Lato", "fontSize": 26, "fontWeight": "bold", "color": "#111111"}, "encoding": {"text": {"field": "t"}}},
  {"data": {"name": "notes"}, "transform": [{"filter": "datum.p == 'B' && datum.k == 'title'"}], "mark": {"type": "text", "font": "Liberation Sans", "fontSize": 15, "color": "#444444"}, "encoding": {"text": {"field": "t"}}}
 ]}
], "spacing": 0, "bounds": "flush"},
{"hconcat": [
{"width": 319, "height": 237, "view": {"stroke": "#6b6b6b"},
 "encoding": {
  "x": {"field": "x", "type": "quantitative", "scale": {"domain": [1580, 1730], "reverse": true, "nice": false, "zero": false}, "axis": {"values": [1700,1675,1650,1625,1600], "labelExpr": "datum.value % 50 == 0 ? '' + datum.value : ''", "title": "Волновое число (см⁻¹)", "titlePadding": 13}},
  "y": {"field": "y", "type": "quantitative", "scale": {"domain": [0, 800], "nice": false}, "axis": {"values": [0,100,200,300,400,500,600,700,800], "labelExpr": "datum.value % 200 == 0 ? '' + datum.value : ''", "title": "Молярная абсорбция (М⁻¹ см⁻¹)", "titleFontSize": 23, "titlePadding": 9}}
 },
 "layer": [
  {"data": {"name": "ir"}, "transform": [{"filter": "datum.p == 'H2O'"}], "mark": {"type": "line", "strokeWidth": 1.7, "interpolate": "monotone"},
   "encoding": {"color": {"field": "s", "type": "nominal", "scale": {"domain": ["water","DPC","EtOH","PG-1","V16R","tick"], "range": ["#111111","#e42b30","#2424d8","#111111","#c8262b","#9a9a9a"]}, "legend": null}}},
  {"data": {"name": "segs"}, "transform": [{"filter": "datum.p == 'H2O'"}], "mark": {"type": "rule", "strokeWidth": 1.2},
   "encoding": {"x2": {"field": "x2"}, "y2": {"field": "y2"}, "color": {"field": "s", "type": "nominal", "scale": {"domain": ["water","DPC","EtOH","PG-1","V16R","tick"], "range": ["#111111","#e42b30","#2424d8","#111111","#c8262b","#9a9a9a"]}, "legend": null}}},
  {"data": {"name": "notes"}, "transform": [{"filter": "datum.p == 'H2O' && datum.k == 'label'"}], "mark": {"type": "text", "font": "Liberation Sans", "fontSize": 13},
   "encoding": {"text": {"field": "t"}, "color": {"field": "s", "type": "nominal", "scale": {"domain": ["water","DPC","EtOH","PG-1","V16R","tick"], "range": ["#111111","#e42b30","#2424d8","#111111","#c8262b","#9a9a9a"]}, "legend": null}}},
  {"data": {"name": "notes"}, "transform": [{"filter": "datum.p == 'H2O' && datum.k == 'v16r'"}], "mark": {"type": "text", "font": "Lato", "fontSize": 18},
   "encoding": {"text": {"field": "t"}, "color": {"field": "s", "type": "nominal", "scale": {"domain": ["water","DPC","EtOH","PG-1","V16R","tick"], "range": ["#111111","#e42b30","#2424d8","#111111","#c8262b","#9a9a9a"]}, "legend": null}}},
  {"data": {"name": "notes"}, "transform": [{"filter": "datum.p == 'H2O' && datum.k == 'peak'"}], "mark": {"type": "text", "font": "Liberation Sans", "fontSize": 12, "color": "#333333"}, "encoding": {"text": {"field": "t"}}},
  {"data": {"name": "notes"}, "transform": [{"filter": "datum.p == 'H2O' && datum.k == 'letter'"}], "mark": {"type": "text", "font": "Lato", "fontSize": 26, "fontWeight": "bold", "color": "#111111"}, "encoding": {"text": {"field": "t"}}},
  {"data": {"name": "notes"}, "transform": [{"filter": "datum.p == 'H2O' && datum.k == 'title'"}], "mark": {"type": "text", "font": "Liberation Sans", "fontSize": 18, "color": "#222222"}, "encoding": {"text": {"field": "t"}}}
 ]},
{"width": 106, "height": 237, "data": {"values": []}, "mark": "point", "encoding": {}},
{"width": 328, "height": 237, "view": {"stroke": "#6b6b6b"},
 "encoding": {
  "x": {"field": "x", "type": "quantitative", "scale": {"domain": [1575, 1731], "reverse": true, "nice": false, "zero": false}, "axis": {"values": [1725,1700,1675,1650,1625,1600,1575], "labelExpr": "datum.value % 50 == 0 ? '' + datum.value : ''", "title": "Волновое число (см⁻¹)", "titlePadding": 13}},
  "y": {"field": "y", "type": "quantitative", "scale": {"domain": [0, 800], "nice": false}, "axis": {"values": [0,100,200,300,400,500,600,700,800], "labelExpr": "datum.value % 200 == 0 ? '' + datum.value : ''", "title": "Молярная абсорбция (М⁻¹ см⁻¹)", "titleFontSize": 23, "titlePadding": 14}}
 },
 "layer": [
  {"data": {"name": "ir"}, "transform": [{"filter": "datum.p == 'EtOH'"}], "mark": {"type": "line", "strokeWidth": 1.7, "interpolate": "monotone"},
   "encoding": {"color": {"field": "s", "type": "nominal", "scale": {"domain": ["water","DPC","EtOH","PG-1","V16R","tick"], "range": ["#111111","#e42b30","#2424d8","#111111","#c8262b","#9a9a9a"]}, "legend": null}}},
  {"data": {"name": "segs"}, "transform": [{"filter": "datum.p == 'EtOH'"}], "mark": {"type": "rule", "strokeWidth": 1.2},
   "encoding": {"x2": {"field": "x2"}, "y2": {"field": "y2"}, "color": {"field": "s", "type": "nominal", "scale": {"domain": ["water","DPC","EtOH","PG-1","V16R","tick"], "range": ["#111111","#e42b30","#2424d8","#111111","#c8262b","#9a9a9a"]}, "legend": null}}},
  {"data": {"name": "notes"}, "transform": [{"filter": "datum.p == 'EtOH' && datum.k == 'label'"}], "mark": {"type": "text", "font": "Liberation Sans", "fontSize": 13},
   "encoding": {"text": {"field": "t"}, "color": {"field": "s", "type": "nominal", "scale": {"domain": ["water","DPC","EtOH","PG-1","V16R","tick"], "range": ["#111111","#e42b30","#2424d8","#111111","#c8262b","#9a9a9a"]}, "legend": null}}},
  {"data": {"name": "notes"}, "transform": [{"filter": "datum.p == 'EtOH' && datum.k == 'v16r'"}], "mark": {"type": "text", "font": "Lato", "fontSize": 18},
   "encoding": {"text": {"field": "t"}, "color": {"field": "s", "type": "nominal", "scale": {"domain": ["water","DPC","EtOH","PG-1","V16R","tick"], "range": ["#111111","#e42b30","#2424d8","#111111","#c8262b","#9a9a9a"]}, "legend": null}}},
  {"data": {"name": "notes"}, "transform": [{"filter": "datum.p == 'EtOH' && datum.k == 'peak'"}], "mark": {"type": "text", "font": "Liberation Sans", "fontSize": 12, "color": "#333333"}, "encoding": {"text": {"field": "t"}}},
  {"data": {"name": "notes"}, "transform": [{"filter": "datum.p == 'EtOH' && datum.k == 'letter'"}], "mark": {"type": "text", "font": "Lato", "fontSize": 26, "fontWeight": "bold", "color": "#111111"}, "encoding": {"text": {"field": "t"}}},
  {"data": {"name": "notes"}, "transform": [{"filter": "datum.p == 'EtOH' && datum.k == 'title'"}], "mark": {"type": "text", "font": "Liberation Sans", "fontSize": 18, "color": "#222222"}, "encoding": {"text": {"field": "t"}}}
 ]},
{"width": 97, "height": 237, "data": {"values": []}, "mark": "point", "encoding": {}},
{"width": 316, "height": 237, "view": {"stroke": "#6b6b6b"},
 "encoding": {
  "x": {"field": "x", "type": "quantitative", "scale": {"domain": [1579, 1725], "reverse": true, "nice": false, "zero": false}, "axis": {"values": [1725,1700,1675,1650,1625,1600], "labelExpr": "datum.value % 50 == 0 ? '' + datum.value : ''", "title": "Волновое число (см⁻¹)", "titlePadding": 13}},
  "y": {"field": "y", "type": "quantitative", "scale": {"domain": [0, 800], "nice": false}, "axis": {"values": [0,100,200,300,400,500,600,700,800], "labelExpr": "datum.value % 200 == 0 ? '' + datum.value : ''", "title": "Молярная абсорбция (М⁻¹ см⁻¹)", "titleFontSize": 23, "titlePadding": 20}}
 },
 "layer": [
  {"data": {"name": "ir"}, "transform": [{"filter": "datum.p == 'DPC'"}], "mark": {"type": "line", "strokeWidth": 1.7, "interpolate": "monotone"},
   "encoding": {"color": {"field": "s", "type": "nominal", "scale": {"domain": ["water","DPC","EtOH","PG-1","V16R","tick"], "range": ["#111111","#e42b30","#2424d8","#111111","#c8262b","#9a9a9a"]}, "legend": null}}},
  {"data": {"name": "segs"}, "transform": [{"filter": "datum.p == 'DPC'"}], "mark": {"type": "rule", "strokeWidth": 1.2},
   "encoding": {"x2": {"field": "x2"}, "y2": {"field": "y2"}, "color": {"field": "s", "type": "nominal", "scale": {"domain": ["water","DPC","EtOH","PG-1","V16R","tick"], "range": ["#111111","#e42b30","#2424d8","#111111","#c8262b","#9a9a9a"]}, "legend": null}}},
  {"data": {"name": "notes"}, "transform": [{"filter": "datum.p == 'DPC' && datum.k == 'label'"}], "mark": {"type": "text", "font": "Liberation Sans", "fontSize": 13},
   "encoding": {"text": {"field": "t"}, "color": {"field": "s", "type": "nominal", "scale": {"domain": ["water","DPC","EtOH","PG-1","V16R","tick"], "range": ["#111111","#e42b30","#2424d8","#111111","#c8262b","#9a9a9a"]}, "legend": null}}},
  {"data": {"name": "notes"}, "transform": [{"filter": "datum.p == 'DPC' && datum.k == 'v16r'"}], "mark": {"type": "text", "font": "Lato", "fontSize": 18},
   "encoding": {"text": {"field": "t"}, "color": {"field": "s", "type": "nominal", "scale": {"domain": ["water","DPC","EtOH","PG-1","V16R","tick"], "range": ["#111111","#e42b30","#2424d8","#111111","#c8262b","#9a9a9a"]}, "legend": null}}},
  {"data": {"name": "notes"}, "transform": [{"filter": "datum.p == 'DPC' && datum.k == 'peak'"}], "mark": {"type": "text", "font": "Liberation Sans", "fontSize": 12, "color": "#333333"}, "encoding": {"text": {"field": "t"}}},
  {"data": {"name": "notes"}, "transform": [{"filter": "datum.p == 'DPC' && datum.k == 'letter'"}], "mark": {"type": "text", "font": "Lato", "fontSize": 26, "fontWeight": "bold", "color": "#111111"}, "encoding": {"text": {"field": "t"}}},
  {"data": {"name": "notes"}, "transform": [{"filter": "datum.p == 'DPC' && datum.k == 'title'"}], "mark": {"type": "text", "font": "Liberation Sans", "fontSize": 18, "color": "#222222"}, "encoding": {"text": {"field": "t"}}}
 ]}
], "spacing": 0, "bounds": "flush"}
]
}
